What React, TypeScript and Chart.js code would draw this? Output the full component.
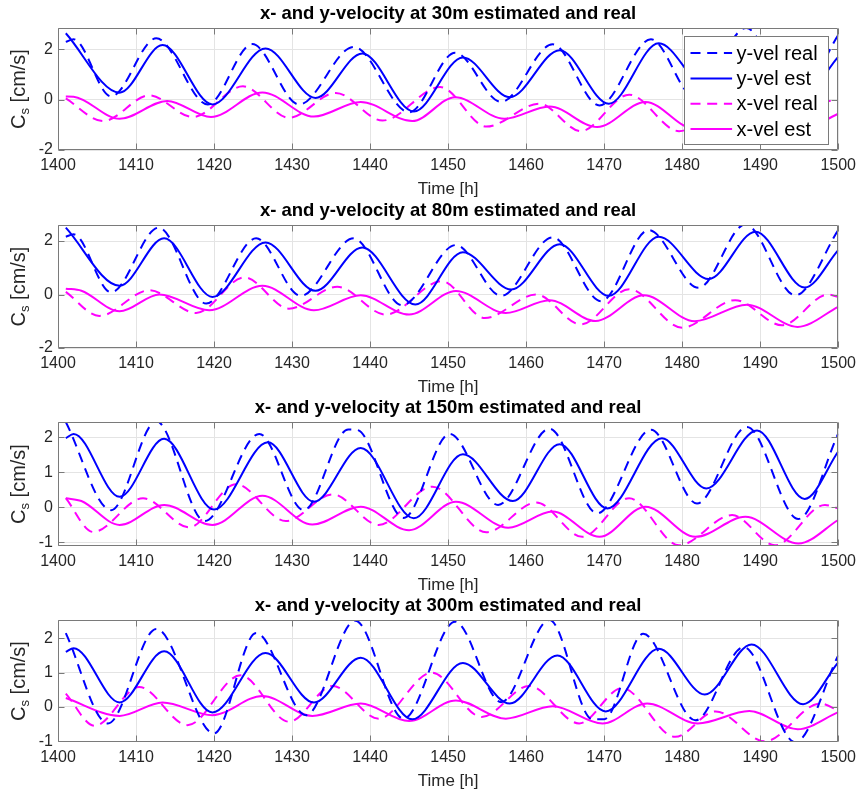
import React, { useEffect, useRef } from "react";
import { Chart, registerables } from "chart.js";

Chart.register(...registerables);

type P = [number, number];

// ---------- axis ticks ----------
const xTicks = [1400, 1410, 1420, 1430, 1440, 1450, 1460, 1470, 1480, 1490, 1500];
const yTicks30 = [-2, 0, 2];
const yTicks80 = [-2, 0, 2];
const yTicks150 = [-1, 0, 1, 2];
const yTicks300 = [-1, 0, 1, 2];
const yRange30 = [-2, 2.85];
const yRange80 = [-2, 2.6];
const yRange150 = [-1.1, 2.43];
const yRange300 = [-1.02, 2.53];

const seriesLabels = ["y-vel real", "y-vel est", "x-vel real", "x-vel est"];
const titles = [
  "x- and y-velocity at 30m estimated and real",
  "x- and y-velocity at 80m estimated and real",
  "x- and y-velocity at 150m estimated and real",
  "x- and y-velocity at 300m estimated and real",
];

// ---------- 30 m ----------
const yReal30: P[] = [[1401, 2.3], [1402, 2.4], [1406.8, 0.13], [1412.6, 2.44], [1419.2, -0.19], [1424.9, 2.21], [1430.9, -0.19], [1437.9, 2.1], [1445, -0.5], [1450.9, 1.87], [1456.8, -0.09], [1463.4, 2.2], [1469.4, -0.23], [1476, 2.4], [1481.6, 0.1], [1488.2, 2.85], [1494.4, -0.1], [1500, 2.57]];
const yEst30: P[] = [[1401, 2.64], [1407.9, 0.28], [1413.4, 2.17], [1419.8, -0.19], [1426.6, 2.04], [1433, 0.07], [1439, 1.84], [1445.6, -0.47], [1451.9, 1.68], [1457.9, 0.1], [1464.3, 1.97], [1470.6, -0.16], [1477, 2.24], [1483.3, 0.45], [1489.5, 2.35], [1495.6, 0.2], [1500, 1.7]];
const xReal30: P[] = [[1401, 0.05], [1405.8, -0.85], [1411.7, 0.17], [1417.3, -0.69], [1423.7, 0.53], [1429.6, -0.72], [1435.6, 0.27], [1441.6, -0.83], [1449, 0.5], [1454.9, -1.07], [1461.7, -0.16], [1467, -1.25], [1473.2, 0.2], [1479.6, -1.25], [1486.5, -0.2], [1492.5, -1.15], [1498.8, -0.05], [1500, -0.12]];
const xEst30: P[] = [[1401, 0.13], [1402, 0.12], [1407.9, -0.76], [1414, -0.05], [1419.6, -0.69], [1426.2, 0.29], [1432.8, -0.67], [1438.8, -0.09], [1445.4, -0.85], [1450.9, 0.1], [1457.2, -0.76], [1463, -0.27], [1469.1, -1.09], [1475.3, -0.09], [1481.5, -1.15], [1488.2, -0.45], [1494.8, -1.25], [1500, -0.56]];

// ---------- 80 m ----------
const yReal80: P[] = [[1401, 2.16], [1402, 2.25], [1406.8, 0.08], [1412.9, 2.5], [1419, -0.34], [1425.4, 2.1], [1431.1, -0.05], [1437.9, 2.1], [1444.1, -0.4], [1451, 1.85], [1456.8, -0.05], [1463.4, 2.14], [1469.6, -0.25], [1475.7, 2.41], [1482.1, 0.25], [1488.1, 2.62], [1494.5, -0.03], [1500, 2.41]];
const yEst80: P[] = [[1401, 2.5], [1407.9, 0.33], [1413.6, 2.1], [1419.8, -0.09], [1426.6, 1.95], [1433, 0.14], [1439, 1.76], [1445.8, -0.37], [1451.9, 1.58], [1458.1, 0.19], [1464.3, 1.88], [1470.6, -0.05], [1477, 2.16], [1483.4, 0.58], [1489.4, 2.35], [1495.7, 0.26], [1500, 1.66]];
const xReal80: P[] = [[1401, 0.1], [1405.3, -0.8], [1411.7, 0.16], [1417.7, -0.69], [1423.9, 0.64], [1429.6, -0.53], [1435.8, 0.29], [1442, -0.75], [1449.2, 0.5], [1454.7, -0.88], [1461.3, 0], [1467, -1.12], [1473.2, 0.2], [1480, -1.24], [1486.8, -0.21], [1492.8, -1.15], [1498.7, 0], [1500, -0.09]];
const xEst80: P[] = [[1401, 0.22], [1403, 0.14], [1407.9, -0.63], [1413, 0], [1419.4, -0.59], [1426.2, 0.33], [1432.8, -0.59], [1438.8, -0.03], [1445, -0.75], [1451, 0.13], [1457.4, -0.69], [1463, -0.21], [1468.9, -0.99], [1475.1, -0.03], [1481.6, -1.0], [1488.3, -0.38], [1494.8, -1.21], [1500, -0.46]];

// ---------- 150 m ----------
const yReal150: P[] = [[1401, 2.43], [1406.8, -0.08], [1412.6, 2.45], [1418.8, -0.39], [1425.8, 2.09], [1431.5, -0.08], [1437.2, 2.22], [1438.4, 2.2], [1444.3, -0.3], [1450.2, 2.09], [1456.4, 0.07], [1463, 2.24], [1469.1, -0.17], [1476, 2.21], [1481.9, 0.11], [1488.3, 2.29], [1494.9, -0.33], [1500, 2.1]];
const yEst150: P[] = [[1401, 1.97], [1402, 2.09], [1407.9, 0.3], [1413.6, 1.95], [1420, -0.06], [1426.9, 1.85], [1432.8, 0.16], [1438.8, 1.69], [1445.6, -0.31], [1451.9, 1.51], [1458.3, 0.18], [1464.3, 1.8], [1470.4, -0.03], [1477.4, 1.97], [1483.1, 0.54], [1489.6, 2.19], [1495.7, 0.24], [1500, 1.59]];
const xReal150: P[] = [[1401, 0.26], [1404.5, -0.7], [1410.9, 0.26], [1416.8, -0.57], [1422.8, 0.66], [1429.2, -0.39], [1435.2, 0.37], [1441.1, -0.5], [1448, 0.59], [1454.9, -0.71], [1461.3, 0.14], [1467.2, -0.84], [1473.2, 0.26], [1479.6, -1.08], [1486.4, -0.22], [1491.9, -1.08], [1498.3, 0.07], [1500, -0.03]];
const xEst150: P[] = [[1401, 0.26], [1403, 0.18], [1407.9, -0.5], [1413.6, 0.07], [1419.8, -0.5], [1426.2, 0.33], [1432.6, -0.49], [1438.8, 0.02], [1445, -0.65], [1451, 0.16], [1457.7, -0.58], [1463.4, -0.12], [1469.4, -0.84], [1475.3, 0.02], [1481.7, -0.84], [1488.1, -0.27], [1494.9, -1.03], [1500, -0.36]];

// ---------- 300 m ----------
const yReal300: P[] = [[1401, 2.15], [1406.4, -0.48], [1412.6, 2.27], [1420, -0.77], [1425.4, 2.15], [1431.8, -0.24], [1438.1, 2.51], [1444.3, -0.34], [1450.9, 2.48], [1456.8, 0.14], [1463, 2.53], [1468.5, -0.36], [1470, -0.36], [1475, 2.13], [1481.7, -0.39], [1487.9, 1.74], [1494.5, -1.03], [1500, 1.5]];
const yEst300: P[] = [[1401, 1.6], [1402, 1.71], [1407.9, 0.13], [1413.6, 1.62], [1419.8, -0.16], [1426.6, 1.57], [1432.8, 0.13], [1438.8, 1.43], [1445.4, -0.36], [1451.9, 1.28], [1457.9, 0.1], [1464, 1.5], [1470.2, -0.13], [1477, 1.69], [1482.9, 0.36], [1488.9, 1.82], [1495.5, 0.08], [1500, 1.3]];
const xReal300: P[] = [[1401, 0.39], [1404.7, -0.55], [1410.4, 0.58], [1416.6, -0.53], [1423.4, 0.92], [1429.6, -0.43], [1435.2, 0.61], [1441.1, -0.34], [1447.9, 1.0], [1454.3, -0.29], [1460.4, 0.61], [1466.8, -0.48], [1472.3, 0.55], [1479.1, -0.87], [1484.3, -0.13], [1490.6, -1.0], [1497.7, 0.1], [1500, -0.1]];
const xEst300: P[] = [[1401, 0.26], [1407.9, -0.26], [1413.4, 0.13], [1419.8, -0.24], [1426.2, 0.32], [1432.6, -0.26], [1438.8, 0.1], [1445, -0.41], [1451, 0.19], [1457.4, -0.34], [1463.4, 0.02], [1469.8, -0.48], [1475.5, 0.1], [1482, -0.48], [1488.6, -0.12], [1494.8, -0.65], [1500, -0.15]];

const panels = [
  { title: titles[0], series: [yReal30, yEst30, xReal30, xEst30], yRange: yRange30, yTicks: yTicks30, legend: true },
  { title: titles[1], series: [yReal80, yEst80, xReal80, xEst80], yRange: yRange80, yTicks: yTicks80, legend: false },
  { title: titles[2], series: [yReal150, yEst150, xReal150, xEst150], yRange: yRange150, yTicks: yTicks150, legend: false },
  { title: titles[3], series: [yReal300, yEst300, xReal300, xEst300], yRange: yRange300, yTicks: yTicks300, legend: false },
];

// ---------- layout / style ----------
const FONT = '"Liberation Sans", Arial, Helvetica, sans-serif';
const BLUE = "#0000ff";
const MAGENTA = "#ff00ff";
const AXIS = "#7a7a7a";
const GRID = "#e4e4e4";
const TEXT = "#262626";
const DASH = [10, 6.7];
const seriesColors = [BLUE, BLUE, MAGENTA, MAGENTA];
const seriesDashed = [true, false, true, false];

const frames = [
  { top: 0, height: 199 },
  { top: 197, height: 200 },
  { top: 394, height: 201 },
  { top: 592, height: 199 },
];
const PAD_TOP = 28;
const X_AXIS_H = 49;
const Y_AXIS_W = 58;
const PAD_RIGHT = 22;
const TICK = 6;

const decor = {
  id: "decor",
  afterDatasetsDraw(chart: any, _args: any, opts: any) {
    const { ctx, chartArea: a } = chart;
    const xs = chart.scales.x;
    const ys = chart.scales.y;
    ctx.save();
    ctx.strokeStyle = AXIS;
    ctx.lineWidth = 1;
    ctx.setLineDash([]);
    const L = Math.round(a.left) + 0.5;
    const R = Math.round(a.right) - 0.5;
    const T = Math.round(a.top) + 0.5;
    const B = Math.round(a.bottom) - 0.5;
    ctx.beginPath();
    ctx.rect(L, T, R - L, B - T);
    for (const v of xTicks) {
      const px = Math.round(xs.getPixelForValue(v)) + 0.5;
      ctx.moveTo(px, B);
      ctx.lineTo(px, B - TICK);
      ctx.moveTo(px, T);
      ctx.lineTo(px, T + TICK);
    }
    for (const v of opts.yTicks) {
      const py = Math.round(ys.getPixelForValue(v)) + 0.5;
      ctx.moveTo(L, py);
      ctx.lineTo(L + TICK, py);
      ctx.moveTo(R, py);
      ctx.lineTo(R - TICK, py);
    }
    ctx.stroke();
    ctx.restore();
  },
  afterDraw(chart: any, _args: any, opts: any) {
    const { ctx, chartArea: a } = chart;
    const cx = (a.left + a.right) / 2;
    const cy = (a.top + a.bottom) / 2;
    ctx.save();
    // title
    ctx.fillStyle = "#000";
    ctx.font = `bold 18.5px ${FONT}`;
    ctx.textAlign = "center";
    ctx.textBaseline = "alphabetic";
    ctx.fillText(opts.title, cx, a.top - 8.7);
    // x label
    ctx.fillStyle = TEXT;
    ctx.font = `17px ${FONT}`;
    ctx.fillText("Time [h]", cx, a.bottom + 44.3);
    // y label C_s [cm/s]
    ctx.save();
    ctx.translate(25, cy);
    ctx.rotate(-Math.PI / 2);
    ctx.textAlign = "left";
    const big = `20px ${FONT}`;
    const small = `13px ${FONT}`;
    ctx.font = big;
    const wC = ctx.measureText("C").width;
    const wRest = ctx.measureText(" [cm/s]").width;
    ctx.font = small;
    const wS = ctx.measureText("s").width;
    let x0 = -(wC + wS + wRest) / 2;
    ctx.font = big;
    ctx.fillText("C", x0, 0);
    x0 += wC;
    ctx.font = small;
    ctx.fillText("s", x0, 3.8);
    x0 += wS;
    ctx.font = big;
    ctx.fillText(" [cm/s]", x0, 0);
    ctx.restore();
    // legend
    if (opts.legend) {
      const lx = Math.round(a.right - 154.3) + 0.5;
      const ly = Math.round(a.top + 7.7) + 0.5;
      const lw = 144;
      const lh = 108;
      ctx.fillStyle = "#fff";
      ctx.fillRect(lx, ly, lw, lh);
      ctx.strokeStyle = AXIS;
      ctx.lineWidth = 1;
      ctx.strokeRect(lx, ly, lw, lh);
      ctx.font = `20px ${FONT}`;
      ctx.textAlign = "left";
      ctx.textBaseline = "middle";
      seriesLabels.forEach((lab, i) => {
        const y = ly + 16.6 + i * 25.3;
        ctx.beginPath();
        ctx.strokeStyle = seriesColors[i];
        ctx.lineWidth = 2;
        ctx.setLineDash(seriesDashed[i] ? DASH : []);
        ctx.moveTo(lx + 6, y);
        ctx.lineTo(lx + 47.6, y);
        ctx.stroke();
        ctx.setLineDash([]);
        ctx.fillStyle = "#000";
        ctx.fillText(lab, lx + 52, y + 1);
      });
    }
    ctx.restore();
  },
};

function buildConfig(p: (typeof panels)[number]): any {
  return {
    type: "line",
    data: {
      datasets: p.series.map((s, i) => ({
        label: seriesLabels[i],
        data: s.map(([x, y]) => ({ x, y })),
        borderColor: seriesColors[i],
        backgroundColor: seriesColors[i],
        borderWidth: 2,
        borderDash: seriesDashed[i] ? DASH : [],
        pointRadius: 0,
        fill: false,
        cubicInterpolationMode: "monotone",
        clip: 0,
      })),
    },
    options: {
      responsive: false,
      animation: false,
      devicePixelRatio: 1,
      layout: { padding: { top: PAD_TOP, right: PAD_RIGHT, left: 0, bottom: 0 } },
      plugins: {
        legend: { display: false },
        title: { display: false },
        tooltip: { enabled: false },
        decor: { title: p.title, yTicks: p.yTicks, legend: p.legend },
      },
      events: [],
      scales: {
        x: {
          type: "linear",
          min: 1400,
          max: 1500,
          afterBuildTicks: (s: any) => {
            s.ticks = xTicks.map((v) => ({ value: v }));
          },
          afterFit: (s: any) => {
            s.height = X_AXIS_H;
          },
          grid: { color: GRID, lineWidth: 1, drawTicks: false },
          border: { display: false },
          ticks: {
            color: TEXT,
            font: { family: FONT, size: 16 },
            padding: 6,
            maxRotation: 0,
            autoSkip: false,
            callback: (v: number) => String(v),
          },
        },
        y: {
          type: "linear",
          min: p.yRange[0],
          max: p.yRange[1],
          afterBuildTicks: (s: any) => {
            s.ticks = p.yTicks.map((v) => ({ value: v }));
          },
          afterFit: (s: any) => {
            s.width = Y_AXIS_W;
          },
          grid: { color: GRID, lineWidth: 1, drawTicks: false },
          border: { display: false },
          ticks: {
            color: TEXT,
            font: { family: FONT, size: 16 },
            padding: 5,
            autoSkip: false,
            callback: (v: number) => String(v),
          },
        },
      },
    },
    plugins: [decor],
  };
}

export default function App() {
  const r0 = useRef<HTMLCanvasElement>(null);
  const r1 = useRef<HTMLCanvasElement>(null);
  const r2 = useRef<HTMLCanvasElement>(null);
  const r3 = useRef<HTMLCanvasElement>(null);
  const refs = [r0, r1, r2, r3];

  useEffect(() => {
    document.documentElement.style.overflow = "hidden";
    const charts = panels.map((p, i) => new Chart(refs[i].current as HTMLCanvasElement, buildConfig(p)));
    return () => charts.forEach((c) => c.destroy());
  }, []);

  return (
    <div style={{ position: "absolute", left: 0, top: 0, width: 862, height: 791, background: "#fff", overflow: "hidden" }}>
      {frames.map((f, i) => (
        <canvas
          key={i}
          ref={refs[i]}
          width={862}
          height={f.height}
          style={{ position: "absolute", left: 0, top: f.top, width: 862, height: f.height, display: "block" }}
        />
      ))}
    </div>
  );
}
